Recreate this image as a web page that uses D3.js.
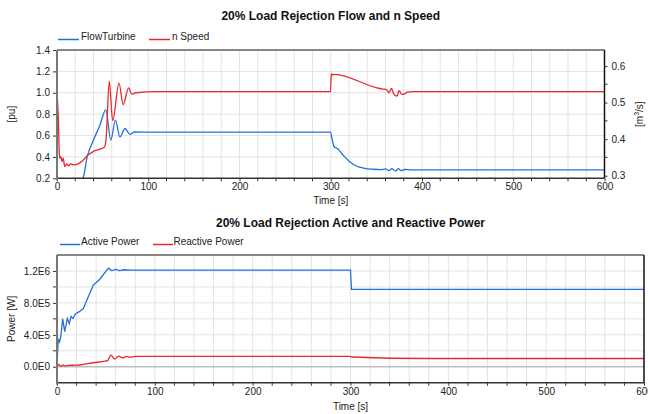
<!DOCTYPE html>
<html><head><meta charset="utf-8">
<script src="https://cdn.jsdelivr.net/npm/d3@7"></script>
<style>
body{margin:0;background:#fff;}
svg{display:block;font-family:"Liberation Sans",Arial,sans-serif;}
</style></head><body>
<svg id="c" width="648" height="414"></svg>
<script>
// ---------- data ----------
const timeTicks = [0,100,200,300,400,500,600];
const puTicks = [0.2,0.4,0.6,0.8,1.0,1.2,1.4];
const flowTicks = [0.3,0.4,0.5,0.6];
const powerTicks = [0,400000,800000,1200000];
const powerTickLabels = ["0.0E0","4.0E5","8.0E5","1.2E6"];

// FlowTurbine [m3/s] (right axis)
const flowTime = [20,28.5,33,40,47,53.5,59,64,69,74.5,80,85,100,299.7,301.5,303.5,305,307,313.5,320.8,328,337,346,355,360,364,367,371,374,377,381,390,600];
const flowTurbine = [0.27,0.2929,0.351,0.3975,0.4381,0.4802,0.3975,0.452,0.406,0.429,0.413,0.4195,0.4192,0.4192,0.3995,0.380,0.377,0.3748,0.3565,0.3382,0.3266,0.3202,0.3176,0.3165,0.3185,0.314,0.3195,0.3125,0.3195,0.314,0.317,0.316,0.316];

// n Speed [pu] (left axis)
const speedTime = [0,1.4,2.5,3.3,4.4,5.5,6.9,8.4,10.6,12.4,15,17.8,23.3,27,30.7,34.3,39.7,47,51.8,53.7,57.3,61,68,72.5,78.5,82,86,110,299.7,300.6,302,303.5,353.6,357,361,363.9,366.5,369,372.6,374.8,378,381,384,390,600];
const nSpeed = [1.0,0.78,0.435,0.388,0.403,0.356,0.388,0.31,0.335,0.316,0.335,0.325,0.335,0.356,0.388,0.42,0.45,0.473,0.49,0.56,1.109,0.74,1.09,0.89,1.045,0.985,1.0,1.01,1.01,1.178,1.165,1.172,1.04,1.035,1.03,1.0,1.04,0.99,0.968,1.02,0.985,0.99,1.005,1.01,1.01];

// Active Power [W]
const pTime = [0,0.5,1.3,2.6,3.8,5.8,7.9,10.5,12.6,14.3,16.4,18.7,22.8,26.9,29.7,37,44,52.5,56,60,64,68,75,300,301,600];
const activePower = [0,150000,350000,310000,370000,600000,440000,605000,540000,630000,605000,660000,690000,730000,810000,1020000,1100000,1235000,1205000,1220000,1205000,1215000,1210000,1210000,970000,970000];

// Reactive Power [W]
const qTime = [0,2,4,6,8,12,20,27,37,49,52,55,59,63,67,71,75,80,300,301,380,600];
const reactivePower = [10000,25000,5000,22000,10000,17000,20000,30000,50000,70000,80000,146000,95000,134000,110000,130000,120000,130000,130000,122000,103000,103000];

// ---------- drawing ----------
const BLUE = "#2470d8", RED = "#e8282e";
const svg = d3.select("#c");

function frame(g, x, y, x0, x1, y0, y1, xMinor, yGrid, clipId){
  // grid
  g.append("g").selectAll("line").data(xMinor).join("line")
    .attr("x1", d=>x(d)).attr("x2", d=>x(d)).attr("y1", y0).attr("y2", y1)
    .attr("stroke", "#e3e3e3").attr("stroke-width", 1);
  g.append("g").selectAll("line").data(yGrid).join("line")
    .attr("x1", x0).attr("x2", x1).attr("y1", d=>y(d)).attr("y2", d=>y(d))
    .attr("stroke", "#e3e3e3").attr("stroke-width", 1);
  svg.append("clipPath").attr("id", clipId).append("rect")
    .attr("x", x0).attr("y", y0).attr("width", x1-x0).attr("height", y1-y0);
}

function xAxis(g, x, y1, x0, x1){
  const ax = d3.axisBottom(x).tickValues(timeTicks).tickSize(3).tickFormat(d3.format("d"));
  const a = g.append("g").attr("transform", `translate(0,${y1})`).call(ax);
  a.select(".domain").remove();
  a.selectAll("text").attr("font-size", 10).attr("fill", "#222").attr("dy", "0.6em");
  a.selectAll("line").attr("stroke", "#333");
  const minor = d3.range(0, 601, 20).filter(d => d % 100 !== 0);
  g.append("g").selectAll("line").data(minor).join("line")
    .attr("x1", d=>x(d)).attr("x2", d=>x(d)).attr("y1", y1).attr("y2", y1+3).attr("stroke", "#333");
  g.append("line").attr("x1", x0-1).attr("x2", x1).attr("y1", y1).attr("y2", y1)
    .attr("stroke", "#333").attr("stroke-width", 1.5);
}

// ===== Top chart =====
{
  const x0 = 57, x1 = 604.5, y0 = 50, y1 = 178.3;
  const x = d3.scaleLinear().domain([0,600]).range([x0,x1]);
  const yL = d3.scaleLinear().domain([0.2,1.4]).range([y1,y0]);
  const yR = d3.scaleLinear().domain([0.2929,0.6437]).range([y1,y0]);
  const g = svg.append("g");
  frame(g, x, yL, x0, x1, y0, y1, d3.range(20, 600, 20), puTicks.slice(1,-1), "clipTop");

  const lineL = d3.line().x((d,i)=>x(speedTime[i])).y(d=>yL(d)).curve(d3.curveMonotoneX);
  const lineR = d3.line().x((d,i)=>x(flowTime[i])).y(d=>yR(d)).curve(d3.curveMonotoneX);
  const pg = g.append("g").attr("clip-path", "url(#clipTop)");
  pg.append("path").attr("d", lineR(flowTurbine)).attr("fill","none").attr("stroke",BLUE).attr("stroke-width",1.3);
  pg.append("path").attr("d", lineL(nSpeed)).attr("fill","none").attr("stroke",RED).attr("stroke-width",1.3);

  // borders
  g.append("line").attr("x1",x0).attr("x2",x1).attr("y1",y0).attr("y2",y0).attr("stroke","#111").attr("stroke-width",1);
  g.append("line").attr("x1",x1).attr("x2",x1).attr("y1",y0).attr("y2",y1).attr("stroke","#111").attr("stroke-width",1.5);
  xAxis(g, x, y1, x0, x1);
  g.append("line").attr("x1",x0).attr("x2",x0).attr("y1",y0).attr("y2",y1+2).attr("stroke","#777").attr("stroke-width",2);

  // left axis
  const la = g.append("g").attr("transform",`translate(${x0-1},0)`)
    .call(d3.axisLeft(yL).tickValues(puTicks).tickSize(3).tickFormat(d3.format(".1f")));
  la.select(".domain").remove();
  la.selectAll("text").attr("font-size",10).attr("fill","#222");
  la.selectAll("line").attr("stroke","#333");
  // right axis
  const ra = g.append("g").attr("transform",`translate(${x1},0)`)
    .call(d3.axisRight(yR).tickValues(flowTicks).tickSize(3).tickFormat(d3.format(".1f")));
  ra.select(".domain").remove();
  ra.selectAll("text").attr("font-size",10).attr("fill","#222").attr("x",7);
  ra.selectAll("line").attr("stroke","#333");
  g.append("g").selectAll("line").data([0.35,0.45,0.55]).join("line")
    .attr("x1",x1).attr("x2",x1+3).attr("y1",d=>yR(d)).attr("y2",d=>yR(d)).attr("stroke","#333");

  // titles
  svg.append("text").attr("x",(x0+x1)/2).attr("y",20).attr("text-anchor","middle")
    .attr("font-size",12).attr("font-weight","bold").attr("fill","#111")
    .text("20% Load Rejection Flow and n Speed");
  svg.append("text").attr("x",(x0+x1)/2).attr("y",204).attr("text-anchor","middle")
    .attr("font-size",10).attr("fill","#222").text("Time [s]");
  svg.append("text").attr("transform",`translate(15,${(y0+y1)/2}) rotate(-90)`).attr("text-anchor","middle")
    .attr("font-size",10).attr("fill","#222").text("[pu]");
  const rt = svg.append("text").attr("transform",`translate(643,${(y0+y1)/2}) rotate(-90)`).attr("text-anchor","middle")
    .attr("font-size",10).attr("fill","#222");
  rt.append("tspan").text("[m");
  rt.append("tspan").attr("dy",-4).attr("font-size",7).text("3");
  rt.append("tspan").attr("dy",4).text("/s]");

  // legend
  const lg = svg.append("g").attr("font-size",10).attr("fill","#222");
  lg.append("line").attr("x1",58).attr("x2",79).attr("y1",39.5).attr("y2",39.5).attr("stroke",BLUE).attr("stroke-width",1.5);
  lg.append("text").attr("x",81).attr("y",40).text("FlowTurbine");
  lg.append("line").attr("x1",149).attr("x2",170).attr("y1",39.5).attr("y2",39.5).attr("stroke",RED).attr("stroke-width",1.5);
  lg.append("text").attr("x",172).attr("y",40).text("n Speed");
}

// ===== Bottom chart =====
{
  const x0 = 57, x1 = 644, y0 = 255, y1 = 382.7;
  const x = d3.scaleLinear().domain([0,600]).range([x0,x1]);
  const y = d3.scaleLinear().domain([-200000,1400000]).range([y1,y0]);
  const g = svg.append("g");
  const yGrid = d3.range(-200000, 1400001, 200000).filter(d => d !== 0 && d > -200000 && d < 1400000);
  frame(g, x, y, x0, x1, y0, y1, d3.range(20, 600, 20), yGrid, "clipBot");
  g.append("line").attr("x1",x0).attr("x2",x1).attr("y1",y(0)).attr("y2",y(0)).attr("stroke","#bdbdbd").attr("stroke-width",1.5);

  const lineP = d3.line().x((d,i)=>x(pTime[i])).y(d=>y(d));
  const lineQ = d3.line().x((d,i)=>x(qTime[i])).y(d=>y(d)).curve(d3.curveMonotoneX);
  const pg = g.append("g").attr("clip-path","url(#clipBot)");
  pg.append("path").attr("d", lineP(activePower)).attr("fill","none").attr("stroke",BLUE).attr("stroke-width",1.3);
  pg.append("path").attr("d", lineQ(reactivePower)).attr("fill","none").attr("stroke",RED).attr("stroke-width",1.3);

  g.append("line").attr("x1",x0).attr("x2",x1).attr("y1",y0).attr("y2",y0).attr("stroke","#111").attr("stroke-width",1);
  g.append("line").attr("x1",x1).attr("x2",x1).attr("y1",y0).attr("y2",y1).attr("stroke","#111").attr("stroke-width",1.5);
  xAxis(g, x, y1, x0, x1);
  g.append("line").attr("x1",x0).attr("x2",x0).attr("y1",y0).attr("y2",y1+2).attr("stroke","#777").attr("stroke-width",2);

  const la = g.append("g").attr("transform",`translate(${x0-1},0)`)
    .call(d3.axisLeft(y).tickValues(powerTicks).tickSize(3).tickFormat((d,i)=>powerTickLabels[i]));
  la.select(".domain").remove();
  la.selectAll("text").attr("font-size",10).attr("fill","#222");
  la.selectAll("line").attr("stroke","#333");
  g.append("g").selectAll("line").data([200000,600000,1000000]).join("line")
    .attr("x1",x0-4).attr("x2",x0-1).attr("y1",d=>y(d)).attr("y2",d=>y(d)).attr("stroke","#333");

  svg.append("text").attr("x",(x0+x1)/2).attr("y",227).attr("text-anchor","middle")
    .attr("font-size",12).attr("font-weight","bold").attr("fill","#111")
    .text("20% Load Rejection Active and Reactive Power");
  svg.append("text").attr("x",(x0+x1)/2).attr("y",410).attr("text-anchor","middle")
    .attr("font-size",10).attr("fill","#222").text("Time [s]");
  svg.append("text").attr("transform",`translate(15,${(y0+y1)/2}) rotate(-90)`).attr("text-anchor","middle")
    .attr("font-size",10).attr("fill","#222").text("Power [W]");

  const lg = svg.append("g").attr("font-size",10).attr("fill","#222");
  lg.append("line").attr("x1",60).attr("x2",80).attr("y1",244.5).attr("y2",244.5).attr("stroke",BLUE).attr("stroke-width",1.5);
  lg.append("text").attr("x",81).attr("y",245).text("Active Power");
  lg.append("line").attr("x1",153).attr("x2",173).attr("y1",244.5).attr("y2",244.5).attr("stroke",RED).attr("stroke-width",1.5);
  lg.append("text").attr("x",173.5).attr("y",245).text("Reactive Power");
}
</script>
</body></html>
